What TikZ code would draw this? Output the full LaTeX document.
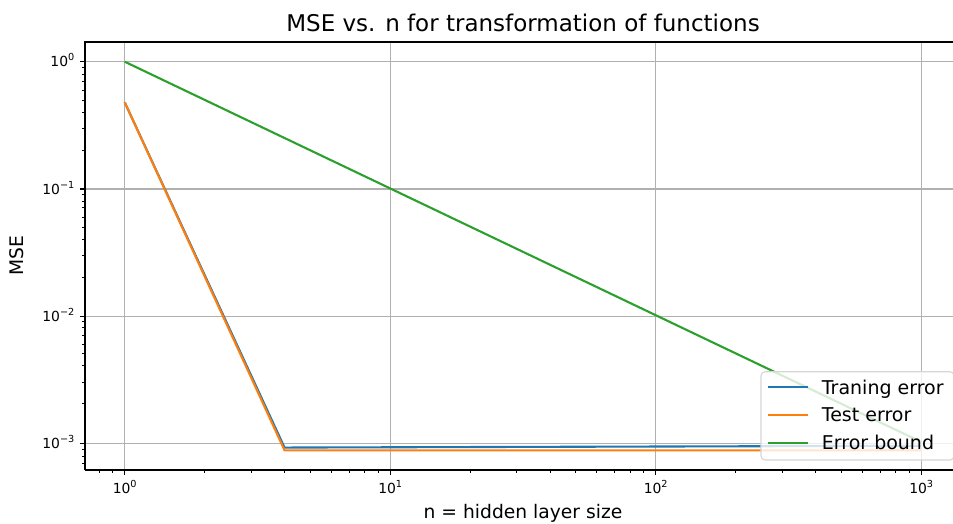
\documentclass[tikz,border=0pt]{standalone}
\usepackage{fontspec}
\setmainfont{DejaVu Sans}
\definecolor{tabblue}{HTML}{1F77B4}
\definecolor{taborange}{HTML}{FF7F0E}
\definecolor{tabgreen}{HTML}{2CA02C}
\definecolor{gridgray}{HTML}{B0B0B0}
\definecolor{legendedge}{HTML}{D6D6D6}
% power-of-ten tick label
\newcommand\tenpow[1]{10\raisebox{5.8pt}{\fontsize{9.7pt}{10pt}\selectfont #1}}
\begin{document}
\begin{tikzpicture}[x=1pt,y=-1pt,
  declare function={px(\n)=124.7+265.5*log10(\n); py(\v)=61.7-127.3*log10(\v);},
  gridline/.style={draw=gridgray,line width=1.1pt},
  spine/.style={draw=black,line width=1.1pt},
  majortick/.style={draw=black,line width=1.1pt},
  minortick/.style={draw=black,line width=0.83pt},
  series/.style={line width=2.1pt,line join=round},
  ticklabel/.style={font=\fontsize{13.9pt}{16pt}\selectfont,inner sep=0pt},
  axislabel/.style={font=\fontsize{18.7pt}{22pt}\selectfont,inner sep=0pt},
  legendtext/.style={font=\fontsize{19pt}{22pt}\selectfont,inner sep=0pt,anchor=base west},
]
\useasboundingbox (0,0) rectangle (953,523);
\clip (0,0) rectangle (953,523);
\fill[white] (0,0) rectangle (953,523);

% grid at major decades
\foreach \k in {0,1,2,3} {
  \draw[gridline] ({124.7+265.5*\k},42) -- ({124.7+265.5*\k},470);
  \draw[gridline] (85,{61.7+127.3*\k}) -- (961,{61.7+127.3*\k});
}

% data series
\draw[series,tabblue] ({px(1)},{py(0.48)}) -- ({px(4)},{py(0.00093)}) -- ({px(1000)},{py(0.00096)});
\draw[series,taborange] ({px(1)},{py(0.48)}) -- ({px(4)},{py(0.000883)}) -- ({px(1000)},{py(0.000883)});
\draw[series,tabgreen] ({px(1)},{py(1)}) -- ({px(1000)},{py(0.001)});

% frame
\draw[spine] (85,470) -- (85,42) -- (961,42);
\draw[spine] (85,470) -- (961,470);

% x ticks
\foreach \k/\lab in {0/0,1/1,2/2,3/3} {
  \draw[majortick] ({124.7+265.5*\k},470) -- ({124.7+265.5*\k},474.9);
  \node[ticklabel,anchor=base] (xt\k) at ({124.7+265.5*\k},493.3) {\tenpow{\lab}};
}
\foreach \d in {1,10,100} \foreach \m in {2,...,9}
  \draw[minortick] ({px(\d*\m)},470) -- ({px(\d*\m)},472.8);
\foreach \m in {0.8,0.9}
  \draw[minortick] ({px(\m)},470) -- ({px(\m)},472.8);

% y ticks
\foreach \k/\lab in {0/0,1/−1,2/−2,3/−3} {
  \draw[majortick] (85,{61.7+127.3*\k}) -- (80.1,{61.7+127.3*\k});
  \node[ticklabel,anchor=base east] (yt\k) at (74.5,{66.7+127.3*\k}) {\tenpow{\lab}};
}
\foreach \d in {0.1,0.01,0.001} \foreach \m in {2,...,9}
  \draw[minortick] (85,{py(\d*\m)}) -- (82.2,{py(\d*\m)});
\foreach \m in {0.0007,0.0008,0.0009}
  \draw[minortick] (85,{py(\m)}) -- (82.2,{py(\m)});

% titles
\node[font=\fontsize{23pt}{26pt}\selectfont,inner sep=0pt,anchor=base] (title) at (523,31) {MSE vs. n for transformation of functions};
\node[axislabel,anchor=base] (xlabel) at (523,518.3) {n = hidden layer size};
\node[axislabel,anchor=base,rotate=90] (ylabel) at (23.5,256) {MSE};

% legend
\filldraw[fill=white,fill opacity=0.8,draw=legendedge,line width=1.1pt,rounded corners=4pt] (761,371.7) rectangle (954,460);
\draw[series,tabblue] (767.7,387) -- (808.3,387);
\draw[series,taborange] (767.7,415) -- (808.3,415);
\draw[series,tabgreen] (767.7,442.7) -- (808.3,442.7);
\node[legendtext] (lg1) at (821.7,394) {Traning error};
\node[legendtext] (lg2) at (821.7,421.8) {Test error};
\node[legendtext] (lg3) at (821.7,449.5) {Error bound};
\end{tikzpicture}
\end{document}
